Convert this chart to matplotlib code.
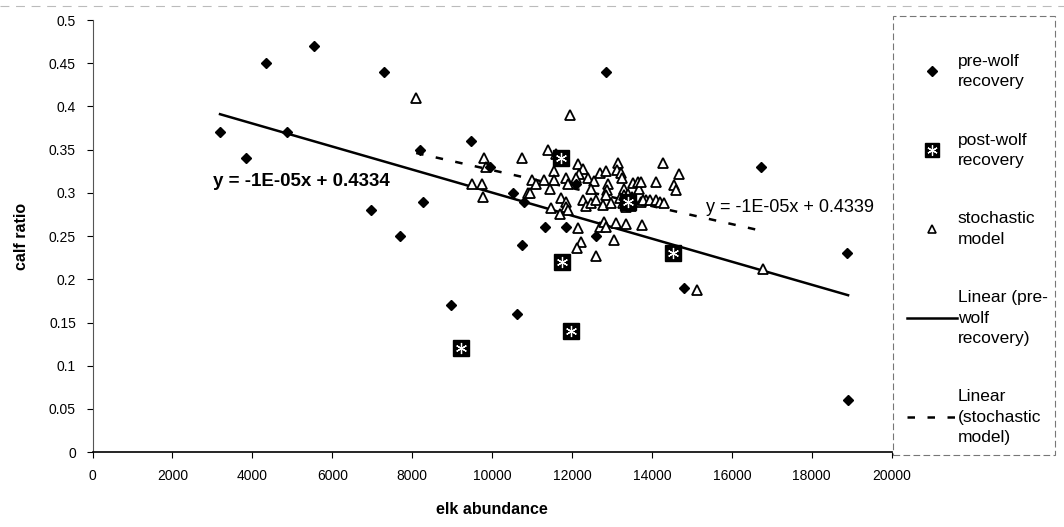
import numpy as np
import matplotlib
matplotlib.use("Agg")
import matplotlib.pyplot as plt
from matplotlib.lines import Line2D
from matplotlib.patches import Rectangle

plt.rcParams["font.family"] = ["Liberation Sans", "DejaVu Sans"]

# elk abundance / calf ratio, before wolves returned
pre_x = [3190, 3850, 4340, 5550, 4870, 7300, 8200, 8270, 6960, 7690,
         12850, 9480, 9950, 10520, 10810, 11320, 11840, 10750, 12600, 12090,
         14810, 18880, 8980, 10630, 18910, 16740]
pre_y = [0.37, 0.34, 0.45, 0.47, 0.37, 0.44, 0.35, 0.29, 0.28, 0.25,
         0.44, 0.36, 0.33, 0.30, 0.29, 0.26, 0.26, 0.24, 0.25, 0.31,
         0.19, 0.23, 0.17, 0.16, 0.06, 0.33]

# after wolf recovery
post_x = [11730, 13400, 14520, 11740, 11980, 9210]
post_y = [0.34, 0.29, 0.23, 0.22, 0.14, 0.12]

# stochastic model runs
sto_x = [8100, 11950, 9800, 9850, 10750, 9500, 9750, 9770, 10900, 11400,
         11600, 11550, 11000, 11300, 11550, 11100, 11450, 10950, 11850, 11900,
         12150, 12270, 12170, 12100, 12400, 12550, 12480, 12700, 12840, 12900,
         12870, 13150, 13130, 13230, 13260, 13520, 13650, 13670, 13290, 13400,
         12850, 12270, 12350, 12480, 12600, 12770, 12980, 13190, 13270, 11730,
         11850, 11850, 11480, 13730, 13850, 14270, 14670, 14090, 13730, 14560,
         14600, 13770, 13940, 14090, 14200, 14310, 11900, 11690, 12150, 12230,
         12120, 12590, 12690, 12810, 12840, 13090, 13360, 13760, 13060, 15120,
         16770, 13300, 13500, 13350, 13480]
sto_y = [0.41, 0.39, 0.34, 0.33, 0.34, 0.31, 0.31, 0.295, 0.30, 0.35,
         0.345, 0.325, 0.315, 0.315, 0.315, 0.31, 0.305, 0.30, 0.317, 0.31,
         0.333, 0.328, 0.322, 0.317, 0.317, 0.314, 0.305, 0.323, 0.325, 0.31,
         0.303, 0.335, 0.326, 0.323, 0.317, 0.311, 0.313, 0.305, 0.304, 0.299,
         0.297, 0.292, 0.285, 0.288, 0.292, 0.286, 0.288, 0.294, 0.288, 0.294,
         0.29, 0.284, 0.283, 0.29, 0.292, 0.334, 0.322, 0.313, 0.313, 0.309,
         0.303, 0.292, 0.292, 0.292, 0.29, 0.288, 0.28, 0.275, 0.259, 0.243,
         0.236, 0.227, 0.261, 0.266, 0.26, 0.265, 0.264, 0.263, 0.245, 0.188,
         0.212, 0.298, 0.295, 0.284, 0.285]

pre_eq = "y = -1E-05x + 0.4334"
sto_eq = "y = -1E-05x + 0.4339"

x_ticks = np.arange(0, 20001, 2000)
y_ticks = np.round(np.arange(0, 0.501, 0.05), 2)

fig = plt.figure(figsize=(10.64, 5.27), dpi=100)
ax = fig.add_axes([0.087, 0.142, 0.751, 0.820])

# least-squares trend lines over each series' range
pre_fit = np.polyfit(pre_x, pre_y, 1)
sto_fit = np.polyfit(sto_x, sto_y, 1)
px = np.array([min(pre_x), max(pre_x)])
sx = np.array([min(sto_x), max(sto_x)])
ax.plot(px, np.polyval(pre_fit, px), color="black", lw=1.8, zorder=2)
ax.plot(sx, np.polyval(sto_fit, sx), color="black", lw=1.8,
        dashes=(3, 5), zorder=2)

ax.plot(sto_x, sto_y, ls="none", marker="^", ms=6.5, mfc="white",
        mec="black", mew=1.3, zorder=3)
ax.plot(pre_x, pre_y, ls="none", marker="D", ms=5.3, color="black", zorder=4)
ax.plot(post_x, post_y, ls="none", marker="s", ms=11.5, color="black",
        zorder=5)
ax.plot(post_x, post_y, ls="none", marker=(6, 2, 0), ms=8, color="none",
        mec="white", mew=0.9, zorder=6)

ax.text(3010, 0.313, pre_eq, fontsize=13.5, fontweight="bold",
        va="center", ha="left")
ax.text(15360, 0.283, sto_eq, fontsize=13, va="center", ha="left")

ax.set_xlim(0, 20000)
ax.set_ylim(0, 0.5)
ax.set_xticks(x_ticks)
ax.set_xticklabels([str(v) for v in x_ticks])
ax.set_yticks(y_ticks)
ax.set_yticklabels([f"{v:g}" for v in y_ticks])
ax.tick_params(labelsize=10, length=4, width=0.8, direction="out", pad=8)
for side in ("top", "right"):
    ax.spines[side].set_visible(False)
ax.spines["left"].set_color("#555555")
ax.spines["left"].set_linewidth(0.8)
ax.spines["bottom"].set_linewidth(1.2)

ax.set_xlabel("elk abundance", fontsize=11.5, fontweight="bold", labelpad=14)
ax.set_ylabel("calf ratio", fontsize=11.5, fontweight="bold", labelpad=14)

# outer chart border (top edge) and legend box
fig.add_artist(Line2D([0.0, 1.0], [0.989, 0.989], color="#bbbbbb", lw=0.8,
                      ls=(0, (8, 6))))
fig.add_artist(Rectangle((0.839, 0.137), 0.153, 0.833, fill=False,
                         edgecolor="#777777", lw=0.8, ls=(0, (6, 3))))

h_pre = Line2D([], [], ls="none", marker="D", ms=5, color="black")
h_sq = Line2D([], [], ls="none", marker="s", ms=10.5, color="black")
h_st = Line2D([], [], ls="none", marker=(6, 2, 0), ms=7.5, mec="white",
              mew=0.9)
h_sto = Line2D([], [], ls="none", marker="^", ms=5.5, mfc="white",
               mec="black", mew=1.2)
h_pl = Line2D([], [], color="black", lw=1.8)
h_sl = Line2D([], [], color="black", lw=1.8, dashes=(3, 5))

leg = fig.legend(
    [h_pre, (h_sq, h_st), h_sto, h_pl, h_sl],
    ["pre-wolf\nrecovery", "post-wolf\nrecovery", "stochastic\nmodel",
     "Linear (pre-\nwolf\nrecovery)", "Linear\n(stochastic\nmodel)"],
    loc="upper left", bbox_to_anchor=(0.852, 0.898), fontsize=12.5,
    frameon=False, handlelength=2.9, handletextpad=0.05,
    labelspacing=2.5, borderpad=0, borderaxespad=0,
)
for t in leg.get_texts():
    t.set_linespacing(1.45)

fig.savefig("out.png", dpi=100, facecolor="white")
